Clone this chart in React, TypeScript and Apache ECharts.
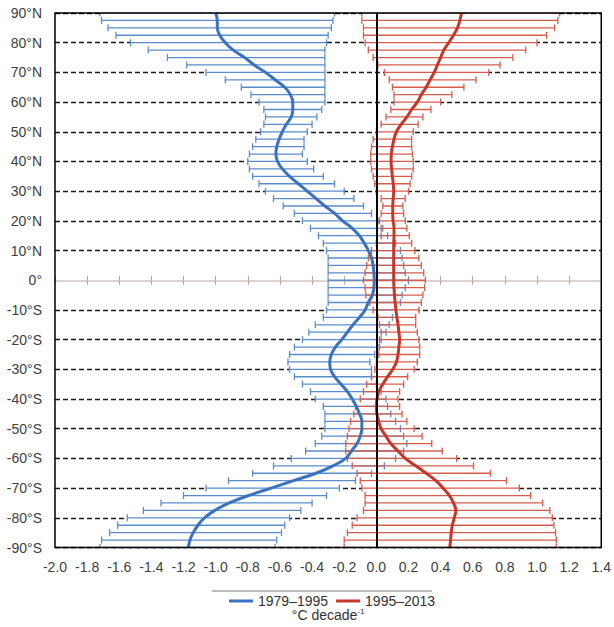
import React, { useEffect, useRef } from 'react';
import * as echarts from 'echarts';

const latitudes = [
  90, 87.5, 85, 82.5, 80, 77.5, 75, 72.5, 70, 67.5, 65, 62.5, 60, 57.5, 55, 52.5, 50, 47.5, 45, 42.5,
  40, 37.5, 35, 32.5, 30, 27.5, 25, 22.5, 20, 17.5, 15, 12.5, 10, 7.5, 5, 2.5, 0, -2.5, -5, -7.5,
  -10, -12.5, -15, -17.5, -20, -22.5, -25, -27.5, -30, -32.5, -35, -37.5, -40, -42.5, -45, -47.5,
  -50, -52.5, -55, -57.5, -60, -62.5, -65, -67.5, -70, -72.5, -75, -77.5, -80, -82.5, -85, -87.5, -90,
];

// 1979–1995
const blueLow = [
  -1.72, -1.71, -1.67, -1.62, -1.53, -1.42, -1.3, -1.18, -1.06, -0.94, -0.84, -0.78, -0.73, -0.7, -0.69, -0.7, -0.72, -0.75, -0.77, -0.79,
  -0.8, -0.79, -0.77, -0.73, -0.69, -0.64, -0.58, -0.51, -0.46, -0.41, -0.36, -0.33, -0.31, -0.3, -0.3, -0.3, -0.3, -0.3, -0.3, -0.3,
  -0.31, -0.33, -0.38, -0.42, -0.46, -0.51, -0.54, -0.55, -0.54, -0.51, -0.46, -0.41, -0.38, -0.33, -0.32, -0.32,
  -0.32, -0.34, -0.38, -0.44, -0.53, -0.64, -0.77, -0.92, -1.06, -1.2, -1.34, -1.45, -1.55, -1.61, -1.66, -1.71, -1.72,
];
const blueHigh = [
  -0.26, -0.27, -0.28, -0.3, -0.31, -0.32, -0.32, -0.32, -0.32, -0.32, -0.32, -0.32, -0.32, -0.34, -0.37, -0.4, -0.43, -0.45, -0.45, -0.46,
  -0.43, -0.39, -0.33, -0.26, -0.2, -0.14, -0.08, -0.03, 0.01, 0.04, 0.07, 0.12, 0.15, 0.16, 0.17, 0.18, 0.2, 0.18, 0.16, 0.15,
  0.12, 0.1, 0.08, 0.06, 0.03, 0.01, -0.01, -0.04, -0.03, -0.03, 0.0, 0.03, 0.06, 0.07, 0.09, 0.12,
  0.15, 0.17, 0.19, 0.17, 0.12, 0.05, -0.03, -0.13, -0.23, -0.31, -0.4, -0.47, -0.54, -0.57, -0.59, -0.62, -0.63,
];
const blueMean = [
  -1.0, -0.99, -0.99, -0.975, -0.94, -0.89, -0.82, -0.76, -0.69, -0.63, -0.57, -0.535, -0.52, -0.52, -0.53, -0.56, -0.585, -0.605, -0.62, -0.625,
  -0.615, -0.585, -0.54, -0.485, -0.43, -0.375, -0.32, -0.26, -0.21, -0.15, -0.105, -0.075, -0.05, -0.03, -0.02, -0.015, -0.013, -0.015, -0.025, -0.05,
  -0.07, -0.105, -0.145, -0.18, -0.215, -0.255, -0.28, -0.29, -0.285, -0.26, -0.22, -0.18, -0.15, -0.125, -0.105, -0.09,
  -0.09, -0.1, -0.12, -0.155, -0.19, -0.27, -0.375, -0.515, -0.655, -0.795, -0.915, -1.005, -1.07, -1.11, -1.14, -1.16, -1.17,
];

// 1995–2013
const redLow = [
  -0.09, -0.09, -0.08, -0.08, -0.07, -0.05, -0.02, 0.01, 0.05, 0.08, 0.1, 0.11, 0.11, 0.09, 0.06, 0.03, 0.0, -0.02, -0.03, -0.035,
  -0.035, -0.03, -0.02, -0.01, 0.0, 0.03, 0.04, 0.03, 0.02, 0.03, 0.03, 0.0, -0.03, -0.05, -0.06, -0.07, -0.08, -0.07, -0.065, -0.04,
  -0.02, 0.01, 0.02, 0.03, 0.02, 0.02, 0.015, 0.0, -0.01, -0.03, -0.06, -0.08, -0.1, -0.13, -0.14, -0.16,
  -0.17, -0.18, -0.19, -0.19, -0.18, -0.15, -0.12, -0.1, -0.09, -0.07, -0.07, -0.08, -0.12, -0.15, -0.18, -0.2, -0.2,
];
const redHigh = [
  1.14, 1.13, 1.11, 1.06, 1.0, 0.93, 0.85, 0.77, 0.7, 0.62, 0.545, 0.47, 0.4, 0.34, 0.29, 0.26, 0.23, 0.22, 0.22, 0.225,
  0.23, 0.23, 0.22, 0.21, 0.2, 0.18, 0.165, 0.17, 0.18, 0.19, 0.205, 0.22, 0.24, 0.265, 0.28, 0.295, 0.305, 0.3, 0.29, 0.28,
  0.265, 0.245, 0.245, 0.255, 0.265, 0.27, 0.27, 0.255, 0.235, 0.195, 0.17, 0.145, 0.135, 0.145, 0.16, 0.19,
  0.235, 0.285, 0.345, 0.41, 0.5, 0.605, 0.71, 0.81, 0.89, 0.96, 1.035, 1.08, 1.095, 1.105, 1.115, 1.12, 1.12,
];
const redMean = [
  0.53, 0.52, 0.505, 0.48, 0.45, 0.42, 0.4, 0.38, 0.36, 0.335, 0.31, 0.28, 0.255, 0.22, 0.19, 0.155, 0.125, 0.11, 0.1, 0.093,
  0.092, 0.095, 0.1, 0.105, 0.108, 0.105, 0.102, 0.102, 0.104, 0.11, 0.11, 0.108, 0.108, 0.108, 0.108, 0.108, 0.108, 0.11, 0.113, 0.117,
  0.122, 0.128, 0.135, 0.14, 0.145, 0.14, 0.135, 0.125, 0.102, 0.07, 0.04, 0.015, 0.004, 0.0, 0.003, 0.015,
  0.03, 0.06, 0.09, 0.135, 0.18, 0.245, 0.31, 0.37, 0.415, 0.455, 0.48, 0.495, 0.485, 0.473, 0.466, 0.462, 0.457,
];

const seriesNames = ['1979–1995', '1995–2013'];
const xMin = -2.0;
const xMax = 1.4;
const xStep = 0.2;
const latStep = 2.5;

const BLUE_LINE = '#3b72bf';
const BLUE_BAR = '#5b8dcd';
const RED_LINE = '#c4382c';
const RED_BAR = '#d65c4c';
const FONT = 'Arial, "Liberation Sans", Helvetica, sans-serif';

export default function App() {
  const ref = useRef<HTMLDivElement>(null);

  useEffect(() => {
    document.body.style.margin = '0';
    const chart = echarts.init(ref.current as HTMLDivElement, null, { renderer: 'svg' });

    const blueRows = latitudes.map((lat, i) => [blueLow[i], blueHigh[i], lat]);
    const redRows = latitudes.map((lat, i) => [redLow[i], redHigh[i], lat]);
    const maskRows = blueRows.concat(redRows);

    const errRender = (color: string) => (params: any, api: any) => {
      const lo = api.coord([api.value(0), api.value(2)]);
      const hi = api.coord([api.value(1), api.value(2)]);
      const h = 3.5;
      const style = { stroke: color, lineWidth: 1.3 };
      return {
        type: 'group',
        children: [
          { type: 'line', shape: { x1: lo[0], y1: lo[1], x2: hi[0], y2: hi[1] }, style },
          { type: 'line', shape: { x1: lo[0], y1: lo[1] - h, x2: lo[0], y2: lo[1] + h }, style },
          { type: 'line', shape: { x1: hi[0], y1: hi[1] - h, x2: hi[0], y2: hi[1] + h }, style },
        ],
      };
    };

    const maskRender = (params: any, api: any) => {
      const lo = api.coord([api.value(0), api.value(2)]);
      const hi = api.coord([api.value(1), api.value(2)]);
      const bandH = api.size([0, latStep])[1];
      return {
        type: 'rect',
        shape: { x: lo[0], y: lo[1] - bandH / 2, width: hi[0] - lo[0], height: bandH },
        style: { fill: '#ffffff' },
      };
    };

    // split-line colors: hide the one at 0° (index 9 of -90..90)
    const splitColors = [] as string[];
    for (let v = -90; v <= 90; v += 10) splitColors.push(v === 0 ? 'rgba(0,0,0,0)' : '#1a1a1a');

    const option: any = {
      animation: false,
      grid: {
        left: 55,
        right: 7,
        top: 13,
        bottom: 73,
        show: true,
        z: 10,
        backgroundColor: 'transparent',
        borderColor: '#000',
        borderWidth: 1.5,
      },
      legend: {
        data: seriesNames,
        left: 229,
        top: 593,
        padding: 0,
        icon: 'rect',
        itemWidth: 24,
        itemHeight: 3,
        itemGap: 8,
        textStyle: { fontSize: 14, color: '#333', fontFamily: FONT, lineHeight: 16 },
      },
      graphic: [
        {
          type: 'line',
          shape: { x1: 212, y1: 591, x2: 432, y2: 591 },
          style: { stroke: '#a6a6a6', lineWidth: 1.5 },
        },
      ],
      xAxis: [
        {
          type: 'value',
          min: xMin,
          max: xMax,
          interval: xStep,
          position: 'bottom',
          axisLine: { show: false, onZero: false },
          axisTick: { show: false },
          splitLine: { show: false },
          axisLabel: {
            fontSize: 14,
            color: '#404040',
            fontFamily: FONT,
            margin: 12,
            formatter: (v: number) => v.toFixed(1),
          },
          name: '{a|°C decade}{b|-1}',
          nameLocation: 'middle',
          nameGap: 60,
          nameTextStyle: {
            rich: {
              a: { fontSize: 14, color: '#333', fontFamily: FONT, lineHeight: 15 },
              b: { fontSize: 8, color: '#333', fontFamily: FONT, verticalAlign: 'top', lineHeight: 8 },
            },
          },
        },
        {
          type: 'value',
          min: xMin,
          max: xMax,
          interval: xStep,
          position: 'bottom',
          z: 2,
          axisLine: { show: true, onZero: true, onZeroAxisIndex: 0, lineStyle: { color: '#d5c5c5', width: 1.5 } },
          axisTick: { show: true, length: 4.5, lineStyle: { color: '#b8a4a4', width: 1 } },
          axisLabel: { show: false },
          splitLine: { show: false },
        },
        {
          type: 'value',
          min: xMin,
          max: xMax,
          interval: xStep,
          position: 'top',
          z: 2,
          axisLine: { show: false, onZero: true, onZeroAxisIndex: 0 },
          axisTick: { show: true, length: 4.5, lineStyle: { color: '#b8a4a4', width: 1 } },
          axisLabel: { show: false },
          splitLine: { show: false },
        },
      ],
      yAxis: [
        {
          type: 'value',
          min: -90,
          max: 90,
          interval: 10,
          axisLine: { show: false, onZero: false },
          axisTick: { show: false },
          axisLabel: {
            fontSize: 14,
            color: '#404040',
            fontFamily: FONT,
            margin: 13,
            formatter: (v: number) => (v > 0 ? `${v}°N` : v < 0 ? `${v}°S` : '0°'),
          },
          splitLine: {
            show: true,
            lineStyle: { color: splitColors, width: 1.3, type: [5, 3] },
          },
        },
      ],
      series: [
        {
          type: 'custom',
          name: 'mask',
          z: 1,
          silent: true,
          clip: true,
          renderItem: maskRender,
          encode: { x: [0, 1], y: 2 },
          data: maskRows,
        },
        {
          type: 'custom',
          name: 'err-blue',
          z: 3,
          silent: true,
          clip: true,
          renderItem: errRender(BLUE_BAR),
          encode: { x: [0, 1], y: 2 },
          data: blueRows,
        },
        {
          type: 'custom',
          name: 'err-red',
          z: 3,
          silent: true,
          clip: true,
          renderItem: errRender(RED_BAR),
          encode: { x: [0, 1], y: 2 },
          data: redRows,
        },
        {
          type: 'line',
          name: seriesNames[0],
          z: 4,
          smooth: 0.4,
          symbol: 'none',
          silent: true,
          itemStyle: { color: BLUE_LINE },
          lineStyle: { color: BLUE_LINE, width: 3 },
          data: latitudes.map((lat, i) => [blueMean[i], lat]),
        },
        {
          type: 'line',
          name: seriesNames[1],
          z: 4,
          smooth: 0.4,
          symbol: 'none',
          silent: true,
          itemStyle: { color: RED_LINE },
          lineStyle: { color: RED_LINE, width: 3 },
          data: latitudes.map((lat, i) => [redMean[i], lat]),
          markLine: {
            silent: true,
            symbol: ['none', 'none'],
            label: { show: false },
            lineStyle: { color: '#000', width: 2, type: 'solid' },
            data: [{ xAxis: 0 }],
          },
        },
      ],
    };

    chart.setOption(option);
    return () => chart.dispose();
  }, []);

  return <div ref={ref} style={{ width: 614, height: 627 }} />;
}
